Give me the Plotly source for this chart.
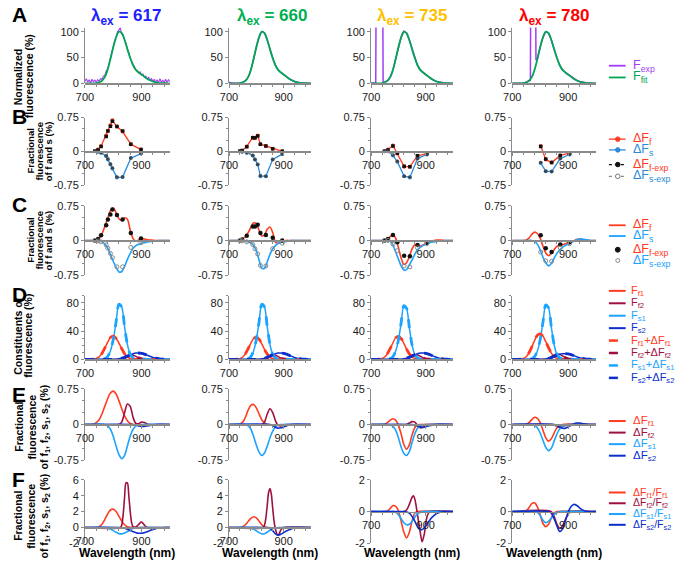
import plotly.graph_objects as go

W, H = 675, 568
FONT = "Liberation Sans, Arial, sans-serif"
AXC = "#8a8a8a"
TXT = "#1a1a1a"

WL10 = list(range(700, 1001, 10))
WL5 = list(range(700, 1001, 5))

TITLE_VALUES = ["617", "660", "735", "780"]
TITLE_COLORS = ["#2020ff", "#00b050", "#ffc000", "#ff0000"]

# ---------------- Row A: normalized fluorescence (%)
A_FIT = [0, 0, 0, 0, 0.5, 2, 5, 12, 26, 47, 70, 89, 100, 97, 84, 66, 49, 35, 26, 21,
         17, 13, 9, 6, 3.5, 2, 1, 0.5, 0.2, 0.1, 0]
A_EXP_617 = [4, 9, 2, 7, 1, 8, 3, 6, 2, 7,
             4, 9, 8, 14, 15, 24, 28, 40, 47, 62,
             70, 82, 90, 100, 103, 108, 95, 94, 84, 78,
             66, 60, 49, 44, 36, 32, 26, 25, 20, 22,
             16, 18, 12, 14, 8, 12, 5, 10, 3, 8,
             2, 7, 1, 9, 2, 6, 1, 8, 2, 7, 3]
A_EXP_660 = [2, 0.5, 0, 0, 0.5, 2, 5, 12, 26, 47, 70, 89, 100, 97, 84, 66, 49, 35, 26, 21,
             17, 13, 9, 6, 3.5, 2, 1, 0.5, 0.2, 0.1, 0]
A_EXP_735_X = [700, 710, 717, 720, 741, 744, 750, 760, 770, 780, 790, 800, 810, 820, 830, 840,
               850, 860, 870, 880, 890, 900, 910, 920, 930, 940, 950, 960, 970, 980, 990, 1000]
A_EXP_735_Y = [0.5, 0.5, 1, 400, 400, 1, 2, 5, 12, 26, 47, 70, 89, 101, 97, 84,
               66, 49, 35, 26, 21, 17, 13, 9, 6, 3.5, 2, 1, 0.5, 0.2, 0.1, 0]
A_EXP_780_X = [700, 710, 720, 730, 740, 750, 760, 765, 768, 782, 785, 790, 800, 810, 820, 830,
               840, 850, 860, 870, 880, 890, 900, 910, 920, 930, 940, 950, 960, 970, 980, 990, 1000]
A_EXP_780_Y = [0, 0, 0, 0, 0.5, 2, 4, 6, 400, 400, 45, 47, 70, 89, 100, 97,
               84, 66, 49, 35, 26, 21, 17, 13, 9, 6, 3.5, 2, 1, 0.5, 0.2, 0.1, 0]

# ---------------- Row B: fractional fluorescence at detection wavelengths
B1_WL = [735, 746, 757, 775, 781, 790, 797, 813, 833, 862, 898]
B1_F = [0.01, 0.04, 0.12, 0.35, 0.46, 0.58, 0.69, 0.55, 0.44, 0.16, 0.04]
B1_FEXP = [0.0, 0.03, 0.11, 0.33, 0.45, 0.56, 0.67, 0.55, 0.45, 0.16, 0.04]
B1_S = [0.0, -0.01, -0.03, -0.11, -0.18, -0.29, -0.38, -0.58, -0.57, -0.15, -0.05]
B1_SEXP = [0.0, -0.01, -0.03, -0.10, -0.17, -0.28, -0.37, -0.57, -0.57, -0.15, -0.05]

B2_WL = [740, 748, 765, 787, 795, 805, 815, 835, 860, 895]
B2_F = [0.0, 0.01, 0.11, 0.31, 0.29, 0.35, 0.16, 0.12, 0.06, 0.0]
B2_FEXP = [0.0, 0.02, 0.10, 0.30, 0.30, 0.34, 0.16, 0.12, 0.06, 0.0]
B2_S = [0.0, -0.01, -0.03, -0.09, -0.18, -0.29, -0.55, -0.55, -0.18, -0.06]
B2_SEXP = [0.0, -0.01, -0.03, -0.09, -0.18, -0.29, -0.54, -0.55, -0.18, -0.06]

B3_WL = [749, 762, 780, 796, 821, 842, 870, 904]
B3_F = [0.0, 0.04, 0.13, -0.05, -0.34, -0.34, -0.10, -0.05]
B3_FEXP = [0.0, 0.03, 0.12, -0.04, -0.33, -0.34, -0.10, -0.05]
B3_S = [0.0, 0.0, -0.09, -0.23, -0.55, -0.58, -0.16, -0.07]
B3_SEXP = [0.0, 0.0, -0.08, -0.22, -0.55, -0.57, -0.16, -0.07]

B4_WL = [802, 820, 841, 872, 905]
B4_F = [0.12, -0.18, -0.25, -0.09, -0.04]
B4_FEXP = [0.11, -0.17, -0.25, -0.09, -0.04]
B4_S = [-0.26, -0.44, -0.45, -0.16, -0.07]
B4_SEXP = [-0.25, -0.44, -0.45, -0.16, -0.07]

# ---------------- Row C: fitted fractional fluorescence spectra (on WL10)
C1_F = [0, 0, 0, 0, 0.01, 0.05, 0.14, 0.3, 0.47, 0.64,
        0.7, 0.6, 0.47, 0.43, 0.49, 0.46, 0.22, 0.04, -0.01, 0.01,
        0.04, 0.03, 0.015, 0.01, 0.005, 0, 0, 0, 0, 0, 0]
C1_S = [0, 0, 0, 0, -0.005, -0.01, -0.03, -0.08, -0.16, -0.3,
        -0.45, -0.58, -0.68, -0.67, -0.56, -0.41, -0.28, -0.17, -0.11, -0.08,
        -0.06, -0.05, -0.035, -0.025, -0.015, -0.01, -0.005, 0, 0, 0, 0]
C2_F = [0, 0, 0, 0, 0.01, 0.04, 0.08, 0.17, 0.28, 0.38,
        0.36, 0.22, 0.1, 0.12, 0.24, 0.29, 0.17, -0.04, -0.06, -0.03,
        -0.01, 0, 0, 0, 0, 0, 0, 0, 0, 0, 0]
C2_S = [0, 0, 0, 0, 0, -0.01, -0.02, -0.03, -0.05, -0.11,
        -0.22, -0.42, -0.6, -0.6, -0.46, -0.3, -0.18, -0.11, -0.07, -0.04,
        -0.03, -0.02, -0.01, 0, 0, 0, 0, 0, 0, 0, 0]
C3_F = [0, 0, 0, 0, 0, 0.005, 0.03, 0.08, 0.13, 0.05,
        -0.15, -0.38, -0.52, -0.48, -0.35, -0.18, -0.1, -0.1, -0.12, -0.1,
        -0.07, -0.04, -0.02, 0, 0.01, 0.01, 0.005, 0, 0, 0, 0]
C3_S = [0, 0, 0, 0, 0, 0, 0, -0.02, -0.1, -0.25,
        -0.4, -0.55, -0.64, -0.63, -0.53, -0.42, -0.3, -0.2, -0.15, -0.11,
        -0.08, -0.06, -0.04, -0.03, -0.02, -0.01, -0.005, 0, 0, 0, 0]
C4_F = [0, 0, 0, 0, 0, 0.01, 0.05, 0.13, 0.18, 0.15,
        0.05, -0.12, -0.27, -0.33, -0.28, -0.2, -0.13, -0.1, -0.09, -0.07,
        -0.05, -0.03, -0.01, 0.02, 0.03, 0.02, 0.01, 0.005, 0, 0, 0]
C4_S = [0, 0, 0, 0, 0, 0, 0, 0, -0.02, -0.08,
        -0.2, -0.36, -0.48, -0.55, -0.5, -0.38, -0.28, -0.2, -0.15, -0.11,
        -0.08, -0.05, -0.02, 0.01, 0.03, 0.03, 0.02, 0.01, 0, 0, 0]

# ---------------- Row D: constituents of fluorescence (%) (on WL10)
D1_F1 = [0, 0, 0, 0.3, 1.2, 3.5, 8.5, 16, 24, 31, 33, 30, 23, 15, 8, 3.5, 1.3, 0.4, 0.1, 0,
         0, 0, 0, 0, 0, 0, 0, 0, 0, 0, 0]
D1_F2 = [0, 0, 0, 0, 0, 0, 0, 0, 0, 0, 0, 0, 0.2, 0.8, 2.2, 4.2, 5.8, 5.8, 4.2, 2.2,
         0.8, 0.2, 0.05, 0, 0, 0, 0, 0, 0, 0, 0]
D1_S1 = [0, 0, 0, 0, 0, 0, 0.2, 1, 4, 12, 28, 53, 78, 74, 46, 21, 7, 2, 0.5, 0.1,
         0, 0, 0, 0, 0, 0, 0, 0, 0, 0, 0]
D1_S2 = [0, 0, 0, 0, 0, 0, 0, 0, 0, 0, 0.1, 0.3, 0.8, 1.7, 3, 4.7, 6.5, 8, 8.9, 9,
         8.6, 7.5, 5.9, 4.3, 2.8, 1.7, 0.9, 0.45, 0.2, 0.08, 0.03]
D2_F1 = [0, 0, 0, 0.3, 1.1, 3.3, 8, 15, 23, 29.5, 31, 28.5, 22, 14, 7.5, 3.3, 1.2, 0.4, 0.1, 0,
         0, 0, 0, 0, 0, 0, 0, 0, 0, 0, 0]
D2_F2 = [0, 0, 0, 0, 0, 0, 0, 0, 0, 0, 0, 0, 0.2, 0.9, 2.4, 4.5, 6, 5.8, 4, 2,
         0.7, 0.2, 0.05, 0, 0, 0, 0, 0, 0, 0, 0]
D2_S1 = [0, 0, 0, 0, 0, 0, 0.2, 1, 4, 12, 28, 53, 78, 74, 46, 21, 7, 2, 0.5, 0.1,
         0, 0, 0, 0, 0, 0, 0, 0, 0, 0, 0]
D2_S2 = [0, 0, 0, 0, 0, 0, 0, 0, 0, 0, 0.1, 0.3, 0.8, 1.8, 3.1, 4.8, 6.6, 8.1, 9, 9.1,
         8.6, 7.4, 5.8, 4.2, 2.7, 1.6, 0.9, 0.45, 0.2, 0.08, 0.03]
D3_F1 = [0, 0, 0, 0.3, 1.2, 3.4, 8.3, 15.5, 23.5, 30.5, 32, 29.5, 22.5, 14.5, 7.8, 3.4, 1.3, 0.4, 0.1, 0,
         0, 0, 0, 0, 0, 0, 0, 0, 0, 0, 0]
D3_F2 = [0, 0, 0, 0, 0, 0, 0, 0, 0, 0, 0, 0, 0.2, 0.9, 2.5, 4.7, 6.4, 6.2, 4.4, 2.2,
         0.8, 0.2, 0.05, 0, 0, 0, 0, 0, 0, 0, 0]
D3_S1 = [0, 0, 0, 0, 0, 0, 0.2, 1, 3.9, 11.7, 27.3, 51.7, 76, 72, 45, 20.5, 6.8, 2, 0.5, 0.1,
         0, 0, 0, 0, 0, 0, 0, 0, 0, 0, 0]
D3_S2 = [0, 0, 0, 0, 0, 0, 0, 0, 0, 0, 0.1, 0.3, 0.8, 1.7, 3, 4.7, 6.5, 8, 8.9, 9,
         8.6, 7.5, 5.9, 4.3, 2.8, 1.7, 0.9, 0.45, 0.2, 0.08, 0.03]
D4_F1 = [0, 0, 0, 0.3, 1.3, 3.8, 9.3, 17.5, 26.5, 34, 36, 33, 25, 16.5, 8.8, 3.8, 1.4, 0.4, 0.1, 0,
         0, 0, 0, 0, 0, 0, 0, 0, 0, 0, 0]
D4_F2 = [0, 0, 0, 0, 0, 0, 0, 0, 0, 0, 0, 0, 0.2, 1, 2.7, 5, 7, 6.8, 4.8, 2.4,
         0.9, 0.2, 0.05, 0, 0, 0, 0, 0, 0, 0, 0]
D4_S1 = [0, 0, 0, 0, 0, 0, 0.2, 1, 4, 11.9, 27.7, 52.3, 77, 73, 45.5, 20.7, 6.9, 2, 0.5, 0.1,
         0, 0, 0, 0, 0, 0, 0, 0, 0, 0, 0]
D4_S2 = [0, 0, 0, 0, 0, 0, 0, 0, 0, 0, 0.1, 0.3, 0.7, 1.5, 2.7, 4.2, 5.8, 7.2, 8, 8.1,
         7.7, 6.7, 5.3, 3.9, 2.5, 1.5, 0.8, 0.4, 0.18, 0.07, 0.03]

# ---------------- Row E: fractional fluorescence of f1, f2, s1, s2 (%)  (wavelength list, value list)
E1_F1 = ([700, 720, 730, 740, 750, 760, 770, 780, 790, 800, 810, 820, 830, 840, 850, 860, 870, 1000],
         [0, 0, 0.01, 0.04, 0.1, 0.22, 0.38, 0.54, 0.66, 0.7, 0.64, 0.5, 0.33, 0.18, 0.08, 0.02, 0, 0])
E1_F2 = ([700, 820, 830, 840, 850, 860, 870, 880, 890, 900, 910, 920, 930, 1000],
         [0, 0, 0.05, 0.25, 0.43, 0.38, 0.15, 0.02, 0.02, 0.05, 0.04, 0.01, 0, 0])
E1_S1 = ([700, 770, 780, 790, 800, 810, 820, 830, 840, 850, 860, 870, 880, 890, 900, 1000],
         [0, 0, -0.03, -0.1, -0.25, -0.45, -0.63, -0.72, -0.65, -0.45, -0.24, -0.1, -0.03, -0.01, 0, 0])
E1_S2 = ([700, 870, 880, 890, 900, 910, 920, 930, 940, 950, 1000],
         [0, 0, -0.01, -0.03, -0.04, -0.04, -0.03, -0.02, -0.01, 0, 0])
E2_F1 = ([700, 730, 740, 750, 760, 770, 780, 790, 800, 810, 820, 830, 840, 1000],
         [0, 0, 0.01, 0.05, 0.15, 0.3, 0.4, 0.42, 0.35, 0.22, 0.1, 0.03, 0, 0])
E2_F2 = ([700, 820, 830, 840, 850, 860, 870, 880, 890, 900, 910, 1000],
         [0, 0, 0.05, 0.22, 0.33, 0.25, 0.08, -0.02, -0.03, -0.01, 0, 0])
E2_S1 = ([700, 760, 770, 780, 790, 800, 810, 820, 830, 840, 850, 860, 870, 880, 890, 1000],
         [0, 0, -0.03, -0.1, -0.25, -0.43, -0.58, -0.65, -0.6, -0.45, -0.28, -0.14, -0.05, -0.01, 0, 0])
E2_S2 = ([700, 850, 860, 870, 880, 890, 900, 910, 920, 930, 1000],
         [0, 0, -0.02, -0.06, -0.08, -0.07, -0.05, -0.03, -0.01, 0, 0])
E3_F1 = ([700, 740, 750, 760, 770, 780, 790, 800, 810, 820, 830, 840, 850, 860, 870, 880, 1000],
         [0, 0, 0.01, 0.04, 0.09, 0.12, 0.09, -0.02, -0.2, -0.42, -0.52, -0.43, -0.22, -0.07, -0.01, 0, 0])
E3_F2 = ([700, 830, 840, 850, 860, 870, 880, 890, 900, 910, 920, 1000],
         [0, 0, 0.03, 0.06, 0.05, -0.02, -0.07, -0.06, -0.03, -0.01, 0, 0])
E3_S1 = ([700, 760, 770, 780, 790, 800, 810, 820, 830, 840, 850, 860, 870, 880, 890, 900, 1000],
         [0, 0, -0.01, -0.04, -0.12, -0.28, -0.47, -0.61, -0.65, -0.57, -0.38, -0.2, -0.08, -0.03, -0.01, 0, 0])
E3_S2 = ([700, 850, 860, 870, 880, 890, 900, 910, 920, 930, 940, 1000],
         [0, 0, -0.01, -0.03, -0.05, -0.06, -0.05, -0.03, -0.02, -0.01, 0, 0])
E4_F1 = ([700, 740, 750, 760, 770, 780, 790, 800, 810, 820, 830, 840, 850, 860, 870, 880, 1000],
         [0, 0, 0.01, 0.04, 0.1, 0.15, 0.13, 0.04, -0.12, -0.28, -0.35, -0.3, -0.18, -0.07, -0.02, 0, 0])
E4_F2 = ([700, 840, 850, 860, 870, 880, 890, 900, 1000],
         [0, 0, -0.01, -0.04, -0.06, -0.05, -0.02, 0, 0])
E4_S1 = ([700, 770, 780, 790, 800, 810, 820, 830, 840, 850, 860, 870, 880, 890, 900, 1000],
         [0, 0, -0.02, -0.07, -0.18, -0.33, -0.48, -0.55, -0.5, -0.35, -0.2, -0.09, -0.04, -0.01, 0, 0])
E4_S2 = ([700, 850, 860, 870, 880, 890, 900, 910, 920, 930, 940, 950, 960, 970, 1000],
         [0, 0, -0.02, -0.05, -0.08, -0.08, -0.05, -0.02, 0.01, 0.03, 0.03, 0.02, 0.01, 0, 0])

# ---------------- Row F: relative change dF/F (wavelength list, value list)
F1_F1 = ([700, 740, 750, 760, 770, 780, 790, 800, 810, 820, 830, 840, 850, 860, 870, 1000],
         [0, 0, 0.1, 0.4, 1.0, 1.7, 2.2, 2.3, 2.0, 1.4, 0.8, 0.35, 0.1, 0.02, 0, 0])
F1_F2 = ([700, 825, 830, 835, 840, 845, 850, 855, 860, 865, 870, 880, 890, 900, 910, 920, 1000],
         [0, 0, 0.3, 1.6, 3.8, 5.6, 5.6, 4.0, 2.0, 0.6, 0.1, 0.05, 0.4, 0.7, 0.3, 0, 0])
F1_S1 = ([700, 770, 780, 790, 800, 810, 820, 830, 840, 850, 860, 870, 880, 890, 1000],
         [0, 0, -0.05, -0.2, -0.4, -0.6, -0.77, -0.8, -0.7, -0.5, -0.3, -0.12, -0.04, 0, 0])
F1_S2 = ([700, 820, 830, 840, 850, 860, 870, 880, 890, 900, 910, 920, 930, 940, 950, 960, 970, 980, 1000],
         [0, 0, -0.03, -0.1, -0.22, -0.38, -0.52, -0.65, -0.72, -0.72, -0.65, -0.53, -0.38, -0.25, -0.14, -0.07, -0.03, 0, 0])
F2_F1 = ([700, 740, 750, 760, 770, 780, 790, 800, 810, 820, 830, 840, 1000],
         [0, 0, 0.1, 0.35, 0.75, 1.15, 1.35, 1.2, 0.8, 0.35, 0.08, 0, 0])
F2_F2 = ([700, 825, 830, 835, 840, 845, 850, 855, 860, 865, 870, 875, 880, 885, 890, 900, 1000],
         [0, 0, 0.3, 1.2, 2.8, 4.4, 4.9, 4.2, 2.4, 0.8, -0.2, -0.8, -1.0, -0.7, -0.3, 0, 0])
F2_S1 = ([700, 770, 780, 790, 800, 810, 820, 830, 840, 850, 860, 870, 880, 1000],
         [0, 0, -0.05, -0.2, -0.42, -0.65, -0.8, -0.78, -0.6, -0.35, -0.15, -0.04, 0, 0])
F2_S2 = ([700, 840, 850, 860, 870, 880, 890, 900, 910, 920, 930, 940, 950, 960, 1000],
         [0, 0, -0.1, -0.4, -0.8, -0.95, -0.85, -0.65, -0.45, -0.28, -0.15, -0.07, -0.02, 0, 0])
F3_F1 = ([700, 750, 760, 770, 780, 790, 800, 810, 820, 830, 840, 850, 860, 870, 1000],
         [0, 0, 0.05, 0.2, 0.38, 0.33, 0.05, -0.6, -1.3, -1.65, -1.3, -0.6, -0.1, 0, 0])
F3_F2 = ([700, 820, 830, 840, 850, 855, 860, 870, 880, 887, 895, 905, 915, 1000],
         [0, 0, 0.1, 0.45, 0.9, 1.0, 0.8, -0.2, -1.3, -1.9, -1.4, -0.3, 0, 0])
F3_S1 = ([700, 780, 790, 800, 810, 820, 830, 840, 850, 860, 870, 880, 890, 1000],
         [0, 0, -0.05, -0.2, -0.45, -0.7, -0.83, -0.8, -0.6, -0.35, -0.15, -0.05, 0, 0])
F3_S2 = ([700, 820, 830, 840, 850, 860, 870, 880, 890, 900, 910, 920, 930, 940, 950, 960, 970, 1000],
         [0, 0, -0.02, -0.1, -0.3, -0.6, -0.95, -1.15, -1.1, -0.9, -0.65, -0.42, -0.25, -0.12, -0.05, -0.02, 0, 0])
F4_F1 = ([700, 740, 750, 760, 770, 780, 790, 800, 810, 820, 830, 840, 850, 860, 1000],
         [0, 0, 0.05, 0.25, 0.5, 0.55, 0.3, -0.2, -0.75, -0.95, -0.8, -0.4, -0.1, 0, 0])
F4_F2 = ([700, 840, 850, 860, 870, 880, 890, 900, 910, 1000],
         [0, 0, -0.3, -0.8, -1.05, -0.9, -0.5, -0.15, 0, 0])
F4_S1 = ([700, 780, 790, 800, 810, 820, 830, 840, 850, 860, 870, 1000],
         [0, 0, -0.05, -0.25, -0.55, -0.7, -0.62, -0.4, -0.2, -0.07, 0, 0])
F4_S2 = ([700, 830, 840, 850, 860, 870, 880, 890, 900, 910, 920, 930, 940, 950, 960, 970, 1000],
         [0, 0, -0.1, -0.45, -0.9, -1.25, -1.1, -0.6, -0.05, 0.3, 0.45, 0.4, 0.25, 0.12, 0.04, 0, 0])

# ---------------- styling
RED = "#ff3b1f"
MAROON = "#9e1040"
SKY = "#1aa3ff"
NAVY = "#0b2fcc"
PURPLE = "#a23cf5"
GREEN = "#00a651"
BBLUE = "#2b8bd9"

COLX = [(77, 163), (223, 306), (367, 450), (510, 595)]
ROWY = [(22, 79), (114, 183), (204, 275), (296, 361), (391, 464), (484, 549)]


def ycfg(r, c):
    if r == 0:
        return [0, 108], [0, 50, 100], ["0", "50", "100"], None
    if r in (1, 2, 4):
        return [-0.75, 0.75], [-0.75, 0, 0.75], ["-0.75", "0", "0.75"], 0.25
    if r == 3:
        return [0, 90], [0, 40, 80], ["0", "40", "80"], 10
    if c < 2:
        return [-2, 6], [-2, 0, 2, 4, 6], ["-2", "0", "2", "4", "6"], None
    return [-2, 2], [-2, 0, 2], ["-2", "0", "2"], None


fig = go.Figure()
layout_axes = {}
for r in range(6):
    for c in range(4):
        idx = r * 4 + c + 1
        s = "" if idx == 1 else str(idx)
        x0, x1 = COLX[c]
        top, bot = ROWY[r]
        yrange, tv, tt, ymin = ycfg(r, c)
        zero_px = top + (yrange[1] - 0) / (yrange[1] - yrange[0]) * (bot - top)
        pos = 1 - zero_px / H
        layout_axes["xaxis" + s] = dict(
            domain=[x0 / W, x1 / W], range=[700, 1000], anchor="free", position=pos,
            tickvals=[700, 900], ticktext=["700", "900"], ticks="outside", ticklen=3,
            tickcolor=AXC, showline=True, linecolor=AXC, linewidth=1.3, showgrid=False,
            zeroline=False, tickfont=dict(family=FONT, size=11, color=TXT),
            minor=dict(ticks="outside", ticklen=2, tickcolor=AXC, tick0=700, dtick=40),
            fixedrange=True)
        ydict = dict(
            domain=[1 - bot / H, 1 - top / H], range=yrange, anchor="x" + s,
            tickvals=tv, ticktext=tt, ticks="outside", ticklen=3, tickcolor=AXC,
            showline=True, linecolor=AXC, linewidth=1, showgrid=False, zeroline=False,
            tickfont=dict(family=FONT, size=11, color=TXT), fixedrange=True)
        if ymin:
            ydict["minor"] = dict(ticks="outside", ticklen=2, tickcolor=AXC, dtick=ymin,
                                  tick0=yrange[0])
        layout_axes["yaxis" + s] = ydict


def add(idx, x, y, color, width=1.6, dash="solid", shape="spline", mode="lines", marker=None):
    s = "" if idx == 1 else str(idx)
    fig.add_trace(go.Scatter(
        x=x, y=y, xaxis="x" + s, yaxis="y" + s, mode=mode,
        line=dict(color=color, width=width, dash=dash, shape=shape, smoothing=0.8),
        marker=marker, hoverinfo="skip", showlegend=False))


# Row A
add(1, WL5, A_EXP_617, PURPLE, 1.1, shape="linear")
add(2, WL10, A_EXP_660, PURPLE, 1.5)
add(3, A_EXP_735_X, A_EXP_735_Y, PURPLE, 1.5, shape="linear")
add(4, A_EXP_780_X, A_EXP_780_Y, PURPLE, 1.5, shape="linear")
for c in range(4):
    add(1 + c, WL10, A_FIT, GREEN, 1.8)

# Row B
B_SETS = [(B1_WL, B1_F, B1_FEXP, B1_S, B1_SEXP), (B2_WL, B2_F, B2_FEXP, B2_S, B2_SEXP),
          (B3_WL, B3_F, B3_FEXP, B3_S, B3_SEXP), (B4_WL, B4_F, B4_FEXP, B4_S, B4_SEXP)]
for c, (wl, f, fe, sv, se) in enumerate(B_SETS):
    idx = 5 + c
    add(idx, wl, f, RED, 1.3, shape="linear", mode="lines+markers",
        marker=dict(color=RED, size=4))
    add(idx, wl, sv, BBLUE, 1.3, shape="linear", mode="lines+markers",
        marker=dict(color=BBLUE, size=4))
    add(idx, wl, fe, "#222222", 1, shape="linear", mode="markers",
        marker=dict(color="#111111", size=3.5, symbol="square"))
    add(idx, wl, se, "#555555", 1, shape="linear", mode="markers",
        marker=dict(color="#444444", size=3.5, symbol="circle"))

# Row C
C_SETS = [(C1_F, C1_S), (C2_F, C2_S), (C3_F, C3_S), (C4_F, C4_S)]
for c, (f, sv) in enumerate(C_SETS):
    idx = 9 + c
    wl, _, fe, _, se = B_SETS[c]
    add(idx, WL10, f, RED, 1.6)
    add(idx, WL10, sv, SKY, 1.6)
    add(idx, wl, fe, "#000", mode="markers", marker=dict(color="#111111", size=4.5))
    add(idx, wl, se, "#777", mode="markers",
        marker=dict(color="#888888", size=4, symbol="circle-open", line=dict(width=1)))

# Row D
D_SETS = [(D1_F1, D1_F2, D1_S1, D1_S2), (D2_F1, D2_F2, D2_S1, D2_S2),
          (D3_F1, D3_F2, D3_S1, D3_S2), (D4_F1, D4_F2, D4_S1, D4_S2)]
COLS4 = [RED, MAROON, SKY, NAVY]
for c, series in enumerate(D_SETS):
    idx = 13 + c
    for v, col in zip(series, COLS4):
        add(idx, WL10, v, col, 1.5)
    for v, col in zip(series, COLS4):
        add(idx, WL10, v, col, 2.8, dash="dash")

# Row E
E_SETS = [(E1_F1, E1_F2, E1_S1, E1_S2), (E2_F1, E2_F2, E2_S1, E2_S2),
          (E3_F1, E3_F2, E3_S1, E3_S2), (E4_F1, E4_F2, E4_S1, E4_S2)]
for c, series in enumerate(E_SETS):
    for (xs, ys), col in zip(series, COLS4):
        add(17 + c, xs, ys, col, 1.6)

# Row F
F_SETS = [(F1_F1, F1_F2, F1_S1, F1_S2), (F2_F1, F2_F2, F2_S1, F2_S2),
          (F3_F1, F3_F2, F3_S1, F3_S2), (F4_F1, F4_F2, F4_S1, F4_S2)]
for c, series in enumerate(F_SETS):
    for (xs, ys), col in zip(series, COLS4):
        add(21 + c, xs, ys, col, 1.6)

# ---------------- annotations & legend keys
annotations = []
shapes = []


def text(x, y, t, size=11, color="black", xanchor="center", angle=0):
    annotations.append(dict(xref="paper", yref="paper", x=x / W, y=1 - y / H, text=t,
                            showarrow=False, xanchor=xanchor, yanchor="middle",
                            textangle=angle, font=dict(family=FONT, size=size, color=color)))


# column titles
for c, (v, col) in enumerate(zip(TITLE_VALUES, TITLE_COLORS)):
    cx = [119, 267, 408, 552][c]
    text(cx, 11, "<b>λ<sub>ex</sub> = %s</b>" % v, size=17, color=col)

# panel letters
for letter, y in zip("ABCDEF", [9, 113, 203, 295, 397, 484]):
    text(1, y, "<b>%s</b>" % letter, size=21, xanchor="left")

# y titles (rotated, one annotation per line)
SUBS = "of f<sub>1</sub>, f<sub>2</sub>, s<sub>1</sub>, s<sub>2</sub> (%)"
YTITLES = [
    (72, [(10, "Normalized"), (21, "fluorescence (%)")], 10.5),
    (148, [(22, "Fractional"), (31, "fluorescence"), (40, "of f and s (%)")], 9.5),
    (239, [(22, "Fractional"), (31, "fluorescence"), (40, "of f and s (%)")], 9.5),
    (337, [(9, "Constituents of"), (19, "fluorescence (%)")], 10.5),
    (430, [(10, "Fractional"), (23, "fluorescence"), (36, SUBS)], 10.5),
    (521, [(9, "Fractional"), (22, "fluorescence"), (36, SUBS)], 10.5),
]
for yc, lines, fs in YTITLES:
    for xc, t in lines:
        text(xc, yc, "<b>%s</b>" % t, size=fs, angle=-90)

# x titles
for c in range(4):
    cx = (COLX[c][0] + COLX[c][1]) / 2
    text(cx, 559, "<b>Wavelength (nm)</b>", size=12)


def key_line(y, color, dash="solid", width=1.8, x0=608, x1=625):
    shapes.append(dict(type="line", xref="paper", yref="paper", x0=x0 / W, x1=x1 / W,
                       y0=1 - y / H, y1=1 - y / H, line=dict(color=color, width=width, dash=dash)))


def key_dot(y, fill, edge, r=2.3, x=617):
    shapes.append(dict(type="circle", xref="paper", yref="paper", x0=(x - r) / W, x1=(x + r) / W,
                       y0=1 - (y + r) / H, y1=1 - (y - r) / H, fillcolor=fill,
                       line=dict(color=edge, width=1)))


def key_text(y, t, color, x=630, size=11.5):
    text(x, y, t, size=size, color=color, xanchor="left")


# legend A
key_line(61, PURPLE); key_text(61, "F<sub>exp</sub>", PURPLE, size=12.5)
key_line(73, GREEN); key_text(73, "F<sub>fit</sub>", GREEN, size=12.5)
# legend B
key_line(136, RED, width=1.3); key_dot(136, RED, RED); key_text(136, "ΔF<sub>f</sub>", RED, size=12.5)
key_line(147, BBLUE, width=1.3); key_dot(147, BBLUE, BBLUE); key_text(147, "ΔF<sub>s</sub>", BBLUE, size=12.5)
key_line(162, "#111111", dash="dot", width=1.2); key_dot(162, "#111111", "#111111")
key_text(162, "ΔF<sub>f-exp</sub>", RED, size=12.5)
key_line(174, "#888888", dash="dot", width=1.2); key_dot(174, "white", "#777777")
key_text(174, "ΔF<sub>s-exp</sub>", BBLUE, size=12.5)
# legend C
key_line(224, RED); key_text(224, "ΔF<sub>f</sub>", RED, size=12.5)
key_line(235, SKY); key_text(235, "ΔF<sub>s</sub>", SKY, size=12.5)
key_dot(249, "#111111", "#111111", r=2.5); key_text(249, "ΔF<sub>f-exp</sub>", RED, size=12.5)
key_dot(260, "white", "#888888", r=2); key_text(260, "ΔF<sub>s-exp</sub>", SKY, size=12.5)
# legend D
D_LEG = [("F<sub>f1</sub>", RED), ("F<sub>f2</sub>", MAROON), ("F<sub>s1</sub>", SKY),
         ("F<sub>s2</sub>", NAVY)]
for i, (t, col) in enumerate(D_LEG):
    y = 291 + i * 12.7
    key_line(y, col, width=2)
    key_text(y, t, col, x=628, size=11)
for i, (t, col) in enumerate(D_LEG):
    y = 291 + (i + 4) * 12.7
    key_line(y, col, dash="dash", width=2.5)
    sub = t.split("<sub>")[1].split("</sub>")[0]
    key_text(y, "%s+ΔF<sub>%s</sub>" % (t, sub), col, x=628, size=11)
# legend E
for i, (t, col) in enumerate(D_LEG):
    y = 424 + i * 11.8
    key_line(y, col, width=2)
    key_text(y, "Δ" + t, col, size=11.5)
# legend F
for i, (t, col) in enumerate(D_LEG):
    y = 497 + i * 11
    key_line(y, col, width=2)
    key_text(y, "Δ%s/%s" % (t, t), col, size=10.5)

fig.update_layout(
    width=W, height=H, autosize=False, margin=dict(l=0, r=0, t=0, b=0),
    paper_bgcolor="white", plot_bgcolor="white", showlegend=False,
    font=dict(family=FONT, color=TXT), annotations=annotations, shapes=shapes,
    **layout_axes)

fig.write_html("out.html", config={"displayModeBar": False, "staticPlot": True},
               post_script="document.body.style.margin='0';"
                           "document.body.style.overflow='hidden';")
